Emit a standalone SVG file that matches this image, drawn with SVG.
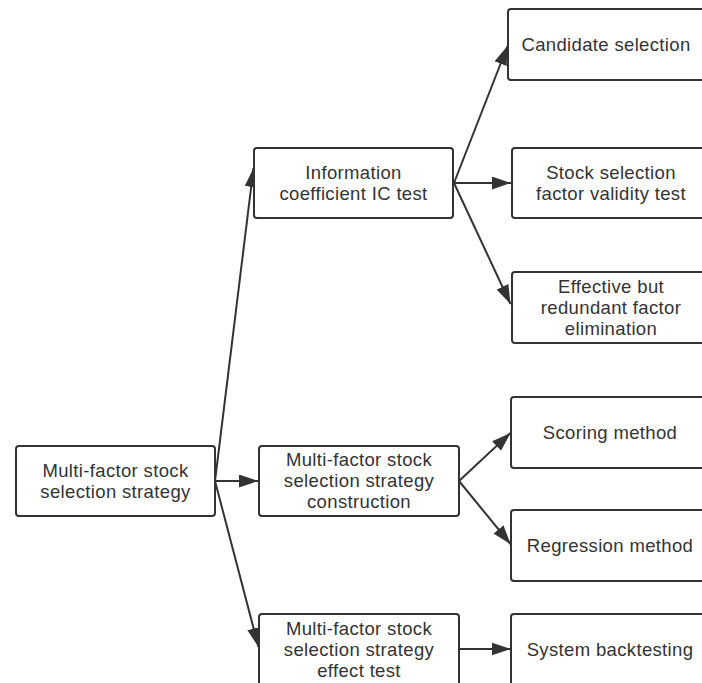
<svg xmlns="http://www.w3.org/2000/svg" width="702" height="683" viewBox="0 0 702 683">
<defs>
<style>
.box{fill:#ffffff;stroke:#333333;stroke-width:2}
.lbl{font-family:"Liberation Sans",Arial,sans-serif;font-size:18.5px;letter-spacing:0.35px;fill:#333333;text-anchor:middle}
.edge{stroke:#333333;stroke-width:2;fill:none;marker-end:url(#arr)}
</style>
<marker id="arr" markerUnits="userSpaceOnUse" markerWidth="20" markerHeight="14" refX="19" refY="6.5" orient="auto">
<path d="M0,0 L19,6.5 L0,13 Z" fill="#333333"/>
</marker>
</defs>
<rect width="702" height="683" fill="#ffffff"/>
<g id="connectors">
<line class="edge" x1="215" y1="481" x2="253.5" y2="168"/>
<line class="edge" x1="215" y1="481" x2="258" y2="481"/>
<line class="edge" x1="215" y1="481" x2="258.5" y2="647"/>
<line class="edge" x1="454" y1="183" x2="507.5" y2="46"/>
<line class="edge" x1="454" y1="183" x2="511" y2="183"/>
<line class="edge" x1="454" y1="183" x2="510.5" y2="304"/>
<line class="edge" x1="459" y1="481" x2="510.5" y2="433"/>
<line class="edge" x1="459" y1="481" x2="510.5" y2="544"/>
<line class="edge" x1="459" y1="649" x2="510.5" y2="649"/>
</g>
<g id="root">
<rect class="box" x="16" y="446" width="199" height="70" rx="3"/>
<text class="lbl"><tspan x="115.5" y="476.5">Multi-factor stock</tspan><tspan x="115.5" y="497.5">selection strategy</tspan></text>
</g>
<g id="ic-test">
<rect class="box" x="254" y="148" width="199" height="70" rx="3"/>
<text class="lbl"><tspan x="353.5" y="178.5">Information</tspan><tspan x="353.5" y="199.5">coefficient IC test</tspan></text>
</g>
<g id="construction">
<rect class="box" x="259" y="446" width="200" height="70" rx="3"/>
<text class="lbl"><tspan x="359" y="466">Multi-factor stock</tspan><tspan x="359" y="487">selection strategy</tspan><tspan x="359" y="508">construction</tspan></text>
</g>
<g id="effect-test">
<rect class="box" x="259" y="614" width="200" height="72" rx="3"/>
<text class="lbl"><tspan x="359" y="634.5">Multi-factor stock</tspan><tspan x="359" y="655.5">selection strategy</tspan><tspan x="359" y="676.5">effect test</tspan></text>
</g>
<g id="candidate">
<rect class="box" x="508" y="9" width="200" height="71" rx="3"/>
<text class="lbl" x="606" y="50.5">Candidate selection</text>
</g>
<g id="validity">
<rect class="box" x="512" y="148" width="200" height="70" rx="3"/>
<text class="lbl"><tspan x="611" y="178.5">Stock selection</tspan><tspan x="611" y="199.5">factor validity test</tspan></text>
</g>
<g id="redundant">
<rect class="box" x="512" y="272" width="200" height="71" rx="3"/>
<text class="lbl"><tspan x="611" y="292.5">Effective but</tspan><tspan x="611" y="313.5">redundant factor</tspan><tspan x="611" y="334.5">elimination</tspan></text>
</g>
<g id="scoring">
<rect class="box" x="511" y="397" width="200" height="71" rx="3"/>
<text class="lbl" x="610" y="439">Scoring method</text>
</g>
<g id="regression">
<rect class="box" x="511" y="510" width="200" height="71" rx="3"/>
<text class="lbl" x="610" y="552">Regression method</text>
</g>
<g id="backtesting">
<rect class="box" x="511" y="614" width="200" height="72" rx="3"/>
<text class="lbl" x="610" y="655.5">System backtesting</text>
</g>
</svg>
